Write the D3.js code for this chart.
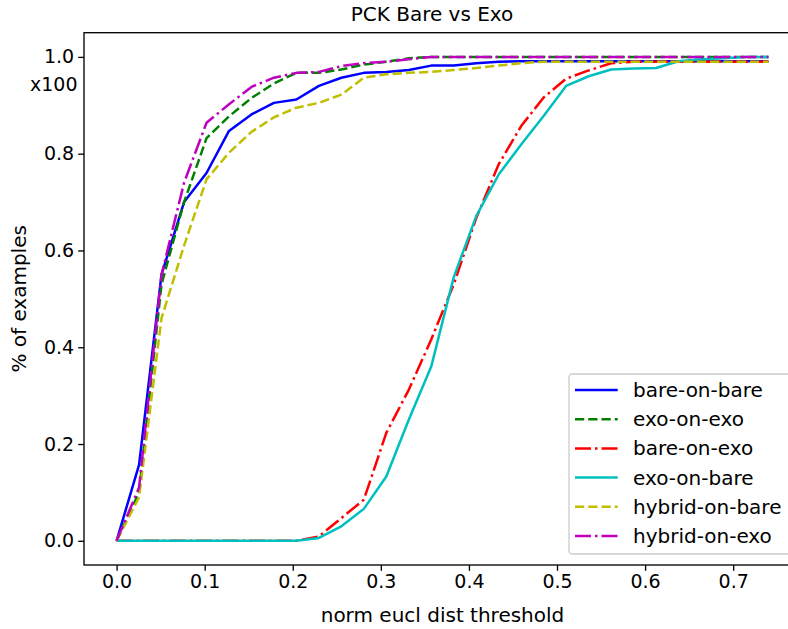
<!DOCTYPE html>
<html lang="en">
<head>
    <meta charset="UTF-8">
    <title>PCK Bare vs Exo</title>
    <script src="https://cdn.jsdelivr.net/npm/d3@7"></script>
    <style>
        body { margin: 0; background: #fff; }
        svg { display: block; }
        text { font-family: "DejaVu Sans", sans-serif; fill: #000; }
    </style>
</head>
<body>
<svg id="svg" width="788" height="629"></svg>
<script>
    // thresholds (x) shared by every curve
    var thresholds = [0, 0.0255, 0.051, 0.0766, 0.1021, 0.1276, 0.1531, 0.1786, 0.2041, 0.2297,
        0.2552, 0.2807, 0.3062, 0.3317, 0.3572, 0.3828, 0.4083, 0.4338, 0.4593, 0.4848,
        0.5103, 0.5359, 0.5614, 0.5869, 0.6124, 0.6379, 0.6634, 0.689, 0.7145, 0.74];

    var bareOnBare = [0, 0.157, 0.55, 0.70, 0.76, 0.847, 0.881, 0.905, 0.912, 0.94,
        0.957, 0.967, 0.969, 0.973, 0.982, 0.982, 0.987, 0.99, 0.991, 0.991,
        0.991, 0.991, 0.991, 0.991, 0.991, 0.991, 0.991, 0.991, 0.991, 0.991];
    var exoOnExo = [0, 0.10, 0.53, 0.70, 0.832, 0.877, 0.915, 0.945, 0.967, 0.967,
        0.974, 0.984, 0.99, 0.997, 1, 1, 1, 1, 1, 1,
        1, 1, 1, 1, 1, 1, 1, 1, 1, 1];
    var bareOnExo = [0, 0, 0, 0, 0, 0, 0, 0, 0, 0.009,
        0.047, 0.085, 0.223, 0.312, 0.416, 0.53, 0.667, 0.778, 0.857, 0.916,
        0.955, 0.972, 0.987, 0.99, 0.99, 0.99, 0.99, 0.99, 0.99, 0.99];
    var exoOnBare = [0, 0, 0, 0, 0, 0, 0, 0, 0, 0.006,
        0.03, 0.066, 0.133, 0.25, 0.36, 0.545, 0.671, 0.757, 0.819, 0.878,
        0.94, 0.96, 0.974, 0.976, 0.977, 0.991, 0.995, 0.997, 1, 1];
    var hybridOnBare = [0, 0.09, 0.46, 0.61, 0.747, 0.802, 0.845, 0.875, 0.895, 0.905,
        0.922, 0.957, 0.964, 0.967, 0.969, 0.973, 0.977, 0.982, 0.987, 0.99,
        0.99, 0.99, 0.99, 0.99, 0.99, 0.99, 0.99, 0.99, 0.99, 0.99];
    var hybridOnExo = [0, 0.11, 0.55, 0.74, 0.864, 0.902, 0.938, 0.957, 0.967, 0.969,
        0.981, 0.987, 0.99, 0.995, 1, 1, 1, 1, 1, 1,
        1, 1, 1, 1, 1, 1, 1, 1, 1, 1];

    var seriesNames = ["bare-on-bare", "exo-on-exo", "bare-on-exo", "exo-on-bare", "hybrid-on-bare", "hybrid-on-exo"];
    var seriesValues = [bareOnBare, exoOnExo, bareOnExo, exoOnBare, hybridOnBare, hybridOnExo];

    var xTicks = [0, 0.1, 0.2, 0.3, 0.4, 0.5, 0.6, 0.7];
    var yTicks = [0, 0.2, 0.4, 0.6, 0.8, 1.0];

    // line styles, matplotlib look
    var colors = ["#0000ff", "#008000", "#ff0000", "#00bfbf", "#bfbf00", "#bf00bf"];
    var lw = 2.5;
    var dashes = [null, "9.25,4", "16,4,2.5,4", null, "9.25,4", "16,4,2.5,4"];

    var box = {left: 84, top: 32.7, right: 801, bottom: 565};
    var tickFont = "19px", labelFont = "20px";

    var x = d3.scaleLinear().domain([-0.037, 0.777]).range([box.left, box.right]);
    var y = d3.scaleLinear().domain([-0.05, 1.05]).range([box.bottom, box.top]);

    var svg = d3.select("#svg");
    svg.append("rect").attr("width", 788).attr("height", 629).attr("fill", "#fff");

    var line = d3.line()
        .x(function (d) { return x(d[0]); })
        .y(function (d) { return y(d[1]); });

    var plot = svg.append("g");
    seriesValues.forEach(function (vals, k) {
        var pts = thresholds.map(function (t, i) { return [t, vals[i]]; });
        plot.append("path")
            .datum(pts)
            .attr("d", line)
            .attr("fill", "none")
            .attr("stroke", colors[k])
            .attr("stroke-width", lw)
            .attr("stroke-dasharray", dashes[k])
            .attr("stroke-linejoin", "round");
    });

    // axes
    var xAxis = d3.axisBottom(x).tickValues(xTicks).tickFormat(d3.format(".1f")).tickSize(5.8).tickPadding(4);
    var yAxis = d3.axisLeft(y).tickValues(yTicks).tickFormat(d3.format(".1f")).tickSize(5.8).tickPadding(4);

    var gx = svg.append("g").attr("transform", "translate(0," + box.bottom + ")").call(xAxis);
    var gy = svg.append("g").attr("transform", "translate(" + box.left + ",0)").call(yAxis);
    [gx, gy].forEach(function (g) {
        g.select(".domain").remove();
        g.selectAll("line").attr("stroke", "#000").attr("stroke-width", 1.33);
        g.selectAll("text").attr("font-size", tickFont).attr("font-family", "DejaVu Sans").attr("fill", "#000");
    });

    // spines
    svg.append("rect")
        .attr("x", box.left).attr("y", box.top)
        .attr("width", box.right - box.left).attr("height", box.bottom - box.top)
        .attr("fill", "none").attr("stroke", "#000").attr("stroke-width", 1.33);

    // titles
    svg.append("text").attr("x", 432).attr("y", 21)
        .attr("text-anchor", "middle").attr("font-size", "20px").text("PCK Bare vs Exo");
    svg.append("text").attr("x", (box.left + box.right) / 2).attr("y", 622)
        .attr("text-anchor", "middle").attr("font-size", labelFont).text("norm eucl dist threshold");
    svg.append("text")
        .attr("transform", "translate(26," + ((box.top + box.bottom) / 2) + ") rotate(-90)")
        .attr("text-anchor", "middle").attr("font-size", labelFont).text("% of examples");
    svg.append("text").attr("x", 30).attr("y", 91).attr("font-size", tickFont).text("x100");

    // legend
    var leg = svg.append("g").attr("transform", "translate(569,374)");
    leg.append("rect").attr("width", 240).attr("height", 180).attr("rx", 3)
        .attr("fill", "#fff").attr("fill-opacity", 0.8)
        .attr("stroke", "#cccccc").attr("stroke-width", 1.33);
    seriesNames.forEach(function (name, k) {
        var ry = 16 + k * 29.2;
        leg.append("line").attr("x1", 6).attr("x2", 48.7).attr("y1", ry).attr("y2", ry)
            .attr("stroke", colors[k]).attr("stroke-width", lw)
            .attr("stroke-dasharray", dashes[k]);
        leg.append("text").attr("x", 64).attr("y", ry + 7).attr("font-size", labelFont).text(name);
    });
</script>
</body>
</html>
